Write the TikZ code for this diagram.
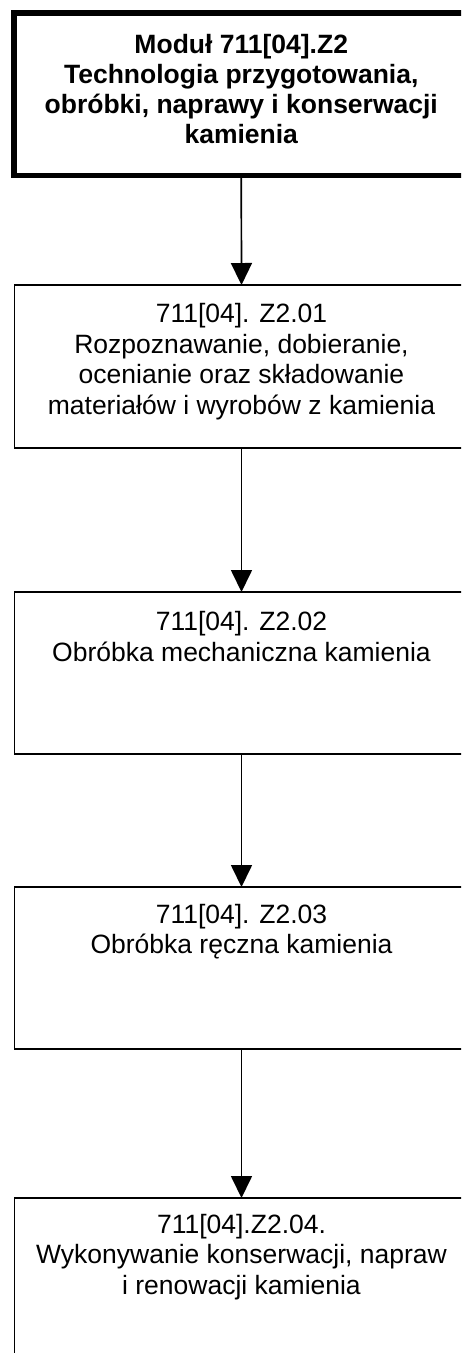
\documentclass[tikz,border=0pt]{standalone}
\usepackage{fontspec}
\setmainfont{Liberation Sans}
\usetikzlibrary{arrows.meta}
\tikzset{
  modbox/.style={draw, line width=5.5pt, rectangle, inner sep=0pt, outer sep=0pt,
    minimum width=455pt, minimum height=162.5pt, anchor=north west},
  unitbox/.style={draw, line width=1.4pt, rectangle, inner sep=0pt, outer sep=0pt,
    minimum width=454pt, anchor=north west},
  modtext/.style={anchor=north, align=center, inner sep=0pt,
    font=\fontsize{26.5}{30}\selectfont\bfseries},
  unittext/.style={anchor=north, align=center, inner sep=0pt,
    font=\fontsize{26.5}{30.5}\selectfont},
  flow/.style={line width=1.7pt, -{Triangle[width=21pt,length=22pt]}},
}
\begin{document}
\begin{tikzpicture}[x=1pt,y=-1pt]
\useasboundingbox (0,0) rectangle (461,1353);
\clip (0,0) rectangle (461,1353);

% module box and its units
\node[modbox] (mod) at (13.75,13) {};
\node[unitbox, minimum height=163pt] (u1) at (14.5,285) {};
\node[unitbox, minimum height=162pt] (u2) at (14.5,592) {};
\node[unitbox, minimum height=162pt] (u3) at (14.5,887) {};
\node[unitbox, minimum height=200pt] (u4) at (14.5,1198) {};

% captions
\node[modtext] (modt) at ([yshift=-21pt]mod.north)
  {Moduł 711[04].Z2\\Technologia przygotowania,\\obróbki, naprawy i konserwacji\\kamienia};
\node[unittext] (u1t) at ([yshift=-18.5pt]u1.north)
  {711[04]. Z2.01\\Rozpoznawanie, dobieranie,\\ocenianie oraz składowanie\\materiałów i wyrobów z kamienia};
\node[unittext] (u2t) at ([yshift=-19.5pt]u2.north)
  {711[04]. Z2.02\\Obróbka mechaniczna kamienia};
\node[unittext] (u3t) at ([yshift=-17pt]u3.north)
  {711[04]. Z2.03\\Obróbka ręczna kamienia};
\node[unittext] (u4t) at ([yshift=-16pt]u4.north)
  {711[04].Z2.04.\\Wykonywanie konserwacji, napraw\\i renowacji kamienia};

% sequence arrows
\draw[flow] (mod.south) -- (u1.north);
\draw[flow] (u1.south) -- (u2.north);
\draw[flow] (u2.south) -- (u3.north);
\draw[flow] (u3.south) -- (u4.north);
\end{tikzpicture}
\end{document}
